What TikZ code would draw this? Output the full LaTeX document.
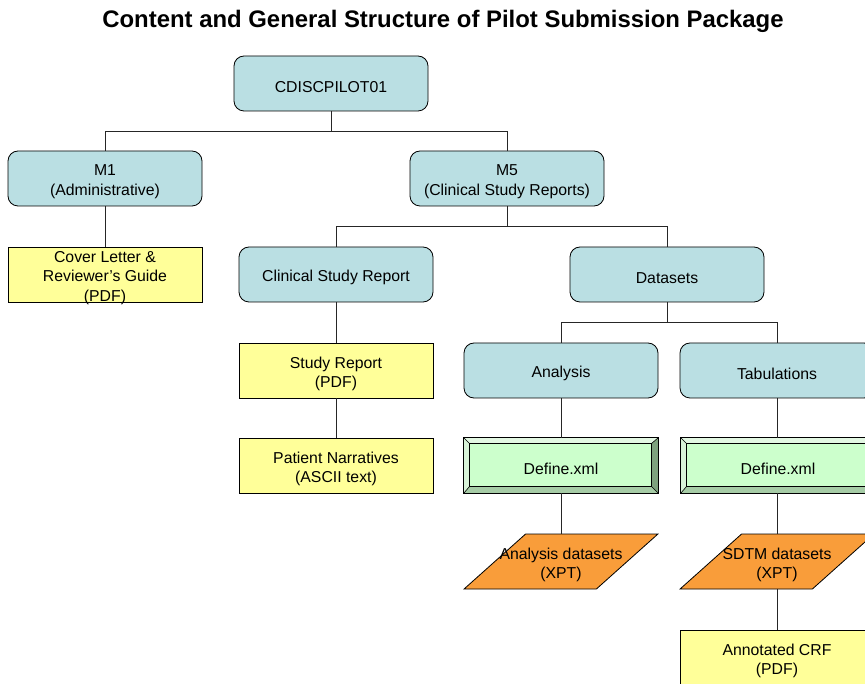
\documentclass[tikz,border=0pt]{standalone}
\usepackage{fontspec}
\setmainfont{Liberation Sans}
\usetikzlibrary{shapes.geometric}
\definecolor{boxblue}{HTML}{BADFE3}
\definecolor{boxyellow}{HTML}{FFFF99}
\definecolor{boxorange}{HTML}{F99D3A}
\definecolor{defgreen}{HTML}{CCFFCC}
\definecolor{bevlight}{HTML}{E3F8E3}
\definecolor{bevleft}{HTML}{D8F3D8}
\definecolor{bevbottom}{HTML}{A6CCA6}
\definecolor{bevright}{HTML}{7EA27E}
\tikzset{
  txt/.style={font=\fontsize{15.8}{19.5}\selectfont, align=center, inner sep=0pt},
  tx/.style={label={[txt, yshift=-3.3pt]center:{#1}}},
  base/.style={draw=black, line width=0.8pt, minimum width=194pt, minimum height=55pt, inner sep=0pt},
  bluebox/.style={base, fill=boxblue, rounded corners=10pt},
  yellowbox/.style={base, fill=boxyellow},
  defbox/.style={base, fill=defgreen},
  databox/.style={base, inner sep=2pt, fill=boxorange, shape=trapezium, trapezium left angle=49,
    trapezium right angle=131, trapezium stretches=true},
  conn/.style={draw=black!85, line width=0.8pt},
}
\newcommand\bevelbox[1]{%
  \fill[bevlight] (#1.north west) -- (#1.north east) -- ([shift={(-6,6)}]#1.north east) -- ([shift={(6,6)}]#1.north west) -- cycle;
  \fill[bevleft] (#1.north west) -- ([shift={(6,6)}]#1.north west) -- ([shift={(6,-7)}]#1.south west) -- (#1.south west) -- cycle;
  \fill[bevbottom] (#1.south west) -- ([shift={(6,-7)}]#1.south west) -- ([shift={(-7,-7)}]#1.south east) -- (#1.south east) -- cycle;
  \fill[bevright] (#1.south east) -- ([shift={(-7,-7)}]#1.south east) -- ([shift={(-7,6)}]#1.north east) -- (#1.north east) -- cycle;
  \draw[line width=0.6pt] ([shift={(6,6)}]#1.north west) rectangle ([shift={(-7,-7)}]#1.south east);
  \draw[line width=0.6pt] (#1.north west) -- ([shift={(6,6)}]#1.north west)
    (#1.north east) -- ([shift={(-7,6)}]#1.north east)
    (#1.south west) -- ([shift={(6,-7)}]#1.south west)
    (#1.south east) -- ([shift={(-7,-7)}]#1.south east);
  \draw[line width=0.8pt] (#1.north west) rectangle (#1.south east);
}
\begin{document}
\begin{tikzpicture}[x=1pt,y=-1pt]
\useasboundingbox (0,0) rectangle (865,684);
\clip (0,0) rectangle (865,684);
\fill[white] (0,0) rectangle (865,684);
\node[font=\bfseries\fontsize{23.9}{28}\selectfont] (title) at (443,21) {Content and General Structure of Pilot Submission Package};

\node[bluebox, tx={CDISCPILOT01}] (root) at (331,83.5) {};
\node[bluebox, tx={M1\\(Administrative)}] (m1) at (105,178.5) {};
\node[bluebox, tx={M5\\(Clinical Study Reports)}] (m5) at (507,178.5) {};
\node[yellowbox, tx={Cover Letter \&\\Reviewer’s Guide\\(PDF)}] (cover) at (105,274.5) {};
\node[bluebox, tx={Clinical Study Report}] (csr) at (336,274.5) {};
\node[bluebox, tx={Datasets}] (ds) at (667,274.5) {};
\node[yellowbox, tx={Study Report\\(PDF)}] (sr) at (336,370.5) {};
\node[yellowbox, tx={Patient Narratives\\(ASCII text)}] (pn) at (336,465.5) {};
\node[bluebox, tx={Analysis}] (an) at (561,370.5) {};
\node[bluebox, tx={Tabulations}] (tab) at (777,370.5) {};
\node[defbox] (adef) at (561,465.5) {};
\node[defbox] (tdef) at (778,465.5) {};
\bevelbox{adef}
\bevelbox{tdef}
\node[txt, yshift=-3.3pt] (adeft) at (adef.center) {Define.xml};
\node[txt, yshift=-3.3pt] (tdeft) at (tdef.center) {Define.xml};
\node[databox, tx={Analysis datasets\\(XPT)}] (ads) at (561,561.5) {};
\node[databox, tx={SDTM datasets\\(XPT)}] (sds) at (777,561.5) {};
\node[yellowbox, tx={Annotated CRF\\(PDF)}] (crf) at (777,657.5) {};

\draw[conn] (root.south) -- ++(0,20) -| (m1.north);
\draw[conn] (root.south) -- ++(0,20) -| (m5.north);
\draw[conn] (m1.south) -- (cover.north);
\draw[conn] (m5.south) -- ++(0,20.5) -| (csr.north);
\draw[conn] (m5.south) -- ++(0,20.5) -| (ds.north);
\draw[conn] (csr.south) -- (sr.north);
\draw[conn] (sr.south) -- (pn.north);
\draw[conn] (ds.south) -- ++(0,20.5) -| (an.north);
\draw[conn] (ds.south) -- ++(0,20.5) -| (tab.north);
\draw[conn] (an.south) -- (adef.north);
\draw[conn] (tab.south) -- (tdef.north -| tab.south);
\draw[conn] (adef.south) -- (ads.north);
\draw[conn] (tdef.south -| sds.north) -- (sds.north);
\draw[conn] (sds.south) -- (crf.north);
\end{tikzpicture}
\end{document}
